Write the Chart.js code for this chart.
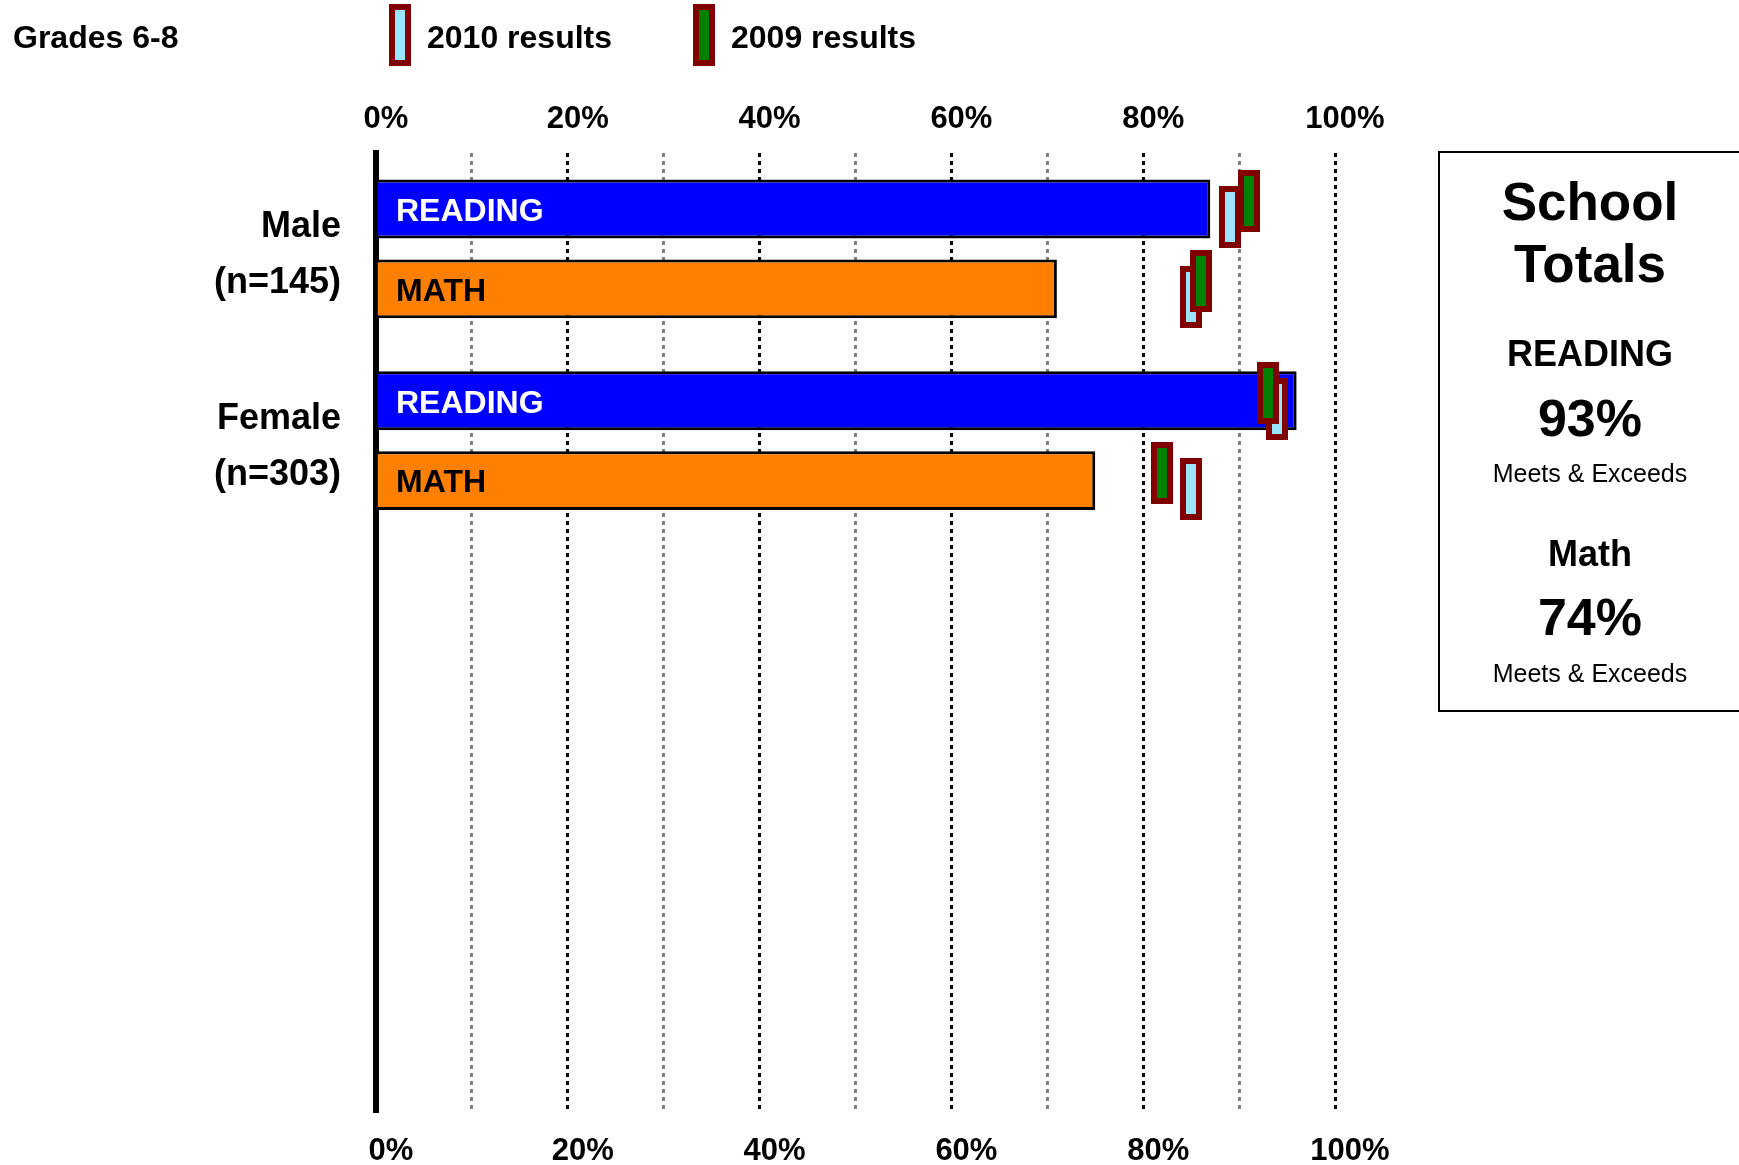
<!DOCTYPE html>
<html>
<head>
<meta charset="utf-8">
<script src="https://cdn.jsdelivr.net/npm/chart.js@4.4.1/dist/chart.umd.min.js"></script>
<style>
html,body{margin:0;padding:0;background:#fff;}
#wrap{position:relative;width:1739px;height:1165px;overflow:hidden;font-family:"Liberation Sans",Arial,Helvetica,sans-serif;background:#fff;}
#c{position:absolute;left:0;top:0;}
.t{position:absolute;white-space:nowrap;color:#000;}
.b{font-weight:bold;}
.mk{position:absolute;width:22px;height:62px;box-sizing:border-box;border:6px solid #800000;}
#box{position:absolute;left:1438px;top:151px;width:340px;height:561px;box-sizing:border-box;border:2px solid #000;}
.ctr{position:absolute;left:1438px;width:304px;text-align:center;white-space:nowrap;}
</style>
</head>
<body>
<div id="wrap">
<canvas id="c" width="1739" height="1165" style="width:1739px;height:1165px"></canvas>
<div class="t b" id="title" style="left:13px;top:21px;font-size:32px;line-height:32px;"></div>
<div class="mk" style="left:389px;top:4px;background:#99E5FF;"></div>
<div class="t b" id="leg10" style="left:427px;top:21px;font-size:32px;line-height:32px;"></div>
<div class="mk" style="left:693px;top:4px;background:#008000;"></div>
<div class="t b" id="leg09" style="left:731px;top:21px;font-size:32px;line-height:32px;"></div>
<div id="box"></div>
<div class="ctr b" style="top:175px;font-size:53px;line-height:53px;">School</div>
<div class="ctr b" style="top:237px;font-size:53px;line-height:53px;">Totals</div>
<div class="ctr b" style="top:336px;font-size:36px;line-height:36px;" id="boxR"></div>
<div class="ctr b" id="boxRv" style="top:392px;font-size:52px;line-height:52px;"></div>
<div class="ctr" style="top:461px;font-size:25px;line-height:25px;">Meets &amp; Exceeds</div>
<div class="ctr b" id="boxM" style="top:536px;font-size:36px;line-height:36px;"></div>
<div class="ctr b" id="boxMv" style="top:591px;font-size:52px;line-height:52px;"></div>
<div class="ctr" style="top:661px;font-size:25px;line-height:25px;">Meets &amp; Exceeds</div>
</div>
<script>
// ---- data ----
const titleText = 'Grades 6-8';
const groupNames = ['Male', 'Female'];
const groupCounts = ['(n=145)', '(n=303)'];
const blankRows = ['', '', ''];
const subjects = ['READING', 'MATH'];
const readingValues = [87, 96];
const mathValues = [71, 75];
const reading2010 = [89, 94];
const reading2009 = [91, 93];
const math2010 = [85, 85];
const math2009 = [86, 82];
const legendLabels = ['2010 results', '2009 results'];
const xTickValues = [0, 20, 40, 60, 80, 100];
const totalLabels = ['READING', 'Math'];
const totalValues = [93, 74];

// ---- html texts ----
document.getElementById('title').textContent = titleText;
document.getElementById('leg10').textContent = legendLabels[0];
document.getElementById('leg09').textContent = legendLabels[1];
document.getElementById('boxR').textContent = totalLabels[0];
document.getElementById('boxRv').textContent = totalValues[0] + '%';
document.getElementById('boxM').textContent = totalLabels[1];
document.getElementById('boxMv').textContent = totalValues[1] + '%';

const FONT = '"Liberation Sans", Arial, Helvetica, sans-serif';
const labels = groupNames.map((g, i) => [g, groupCounts[i]]).concat(blankRows);

const barLabelPlugin = {
  id: 'barLabels',
  afterDatasetsDraw(chart) {
    const ctx = chart.ctx;
    ctx.save();
    ctx.font = 'bold 32px ' + FONT;
    ctx.textBaseline = 'middle';
    ctx.textAlign = 'left';
    chart.data.datasets.forEach((ds, di) => {
      const meta = chart.getDatasetMeta(di);
      meta.data.forEach((bar, j) => {
        if (ds.data[j] == null) return;
        ctx.fillStyle = ds.labelColor;
        ctx.fillText(ds.label, chart.chartArea.left + 20, bar.y + 3);
      });
    });
    ctx.restore();
  }
};

function drawMark(ctx, x, y, fill) {
  ctx.fillStyle = '#800000';
  ctx.fillRect(Math.round(x - 11), Math.round(y - 31), 22, 62);
  ctx.fillStyle = fill;
  ctx.fillRect(Math.round(x - 5), Math.round(y - 25), 10, 50);
}

const markerPlugin = {
  id: 'markers',
  afterDatasetsDraw(chart) {
    const ctx = chart.ctx;
    const xs = chart.scales.x;
    const sets = [[0, reading2010, reading2009], [1, math2010, math2009]];
    ctx.save();
    sets.forEach(([di, m10, m09]) => {
      const meta = chart.getDatasetMeta(di);
      meta.data.forEach((bar, j) => {
        if (m10[j] == null) return;
        drawMark(ctx, xs.getPixelForValue(m10[j]), bar.y + 8, '#99E5FF');
        drawMark(ctx, xs.getPixelForValue(m09[j]), bar.y - 8, '#008000');
      });
    });
    ctx.restore();
  }
};

const tickCb = (v) => (xTickValues.includes(v) ? v + '%' : '');

new Chart(document.getElementById('c'), {
  type: 'bar',
  data: {
    labels: labels,
    datasets: [
      { label: subjects[0], data: readingValues, backgroundColor: '#0000FF', borderColor: '#000', borderWidth: 3, labelColor: '#FFFFFF' },
      { label: subjects[1], data: mathValues, backgroundColor: '#FF8000', borderColor: '#000', borderWidth: 3, labelColor: '#000000' }
    ]
  },
  options: {
    indexAxis: 'y',
    responsive: false,
    animation: false,
    devicePixelRatio: 1,
    categoryPercentage: 0.8325,
    barPercentage: 0.737,
    layout: { padding: { left: 0, top: 0, right: 404, bottom: 0 } },
    plugins: { legend: { display: false }, tooltip: { enabled: false } },
    scales: {
      x: {
        type: 'linear', position: 'bottom', min: 0, max: 100,
        afterFit: (s) => { s.height = 53; s.paddingLeft = 0; s.paddingRight = 0; },
        ticks: { stepSize: 10, autoSkip: false, maxRotation: 0, callback: tickCb, color: '#000',
          font: { family: FONT, size: 31, weight: 'bold' }, padding: 21, labelOffset: 15 },
        grid: {
          drawTicks: false, lineWidth: 3,
          color: (c) => (c.tick && c.tick.value === 0) ? 'rgba(0,0,0,0)' : ((c.tick && c.tick.value % 20 === 0) ? '#000000' : '#808080')
        },
        border: { display: false, dash: [4, 4] }
      },
      x2: {
        type: 'linear', position: 'top', min: 0, max: 100,
        afterFit: (s) => { s.height = 153; s.paddingLeft = 0; s.paddingRight = 0; },
        ticks: { stepSize: 10, autoSkip: false, maxRotation: 0, callback: tickCb, color: '#000',
          font: { family: FONT, size: 31, weight: 'bold' }, padding: 15, labelOffset: 10 },
        grid: { display: false, drawTicks: false },
        border: { display: false }
      },
      y: {
        type: 'category',
        afterFit: (s) => { s.width = 376; s.paddingTop = 0; s.paddingBottom = 0; },
        ticks: { color: '#000', font: { family: FONT, size: 36, weight: 'bold', lineHeight: 1.55 }, padding: 35, labelOffset: 6, autoSkip: false },
        grid: { display: false, drawTicks: false },
        border: { display: true, color: '#000', width: 6 }
      }
    }
  },
  plugins: [barLabelPlugin, markerPlugin]
});
</script>
</body>
</html>
